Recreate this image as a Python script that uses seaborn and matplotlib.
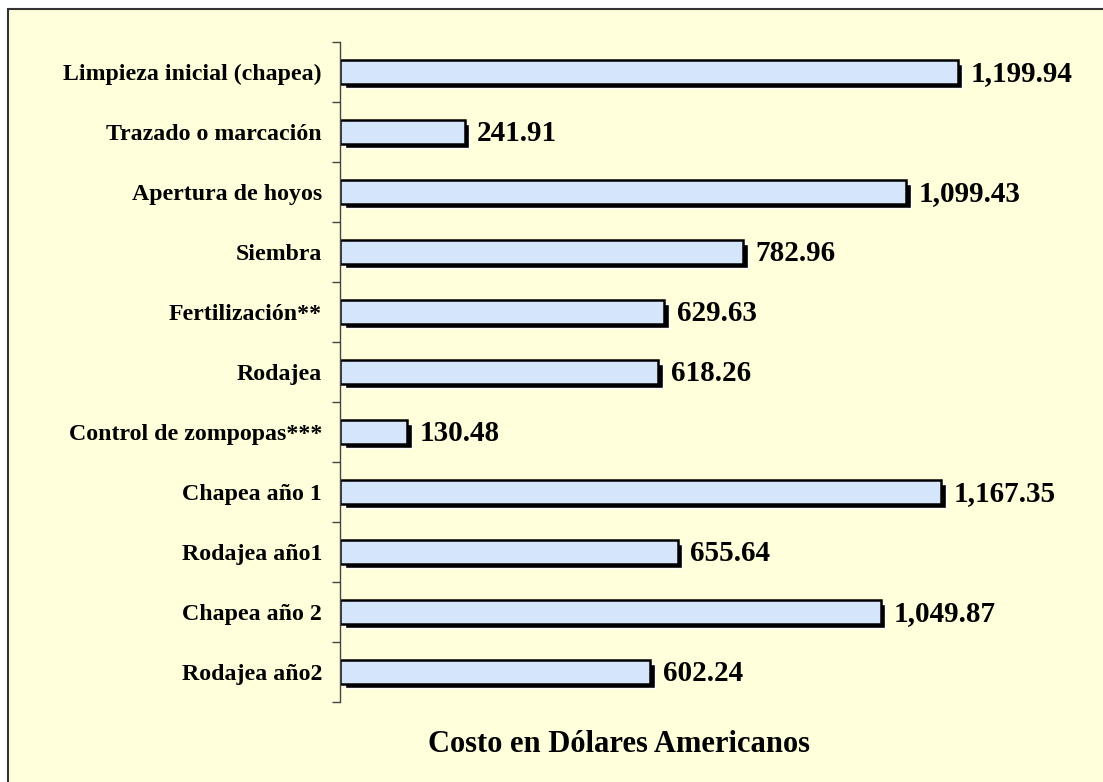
import matplotlib
matplotlib.use("Agg")
import matplotlib.pyplot as plt
import matplotlib.transforms as mtransforms
from matplotlib.patches import Rectangle
import pandas as pd
import seaborn as sns

# Data
actividades = [
    "Limpieza inicial (chapea)", "Trazado o marcación", "Apertura de hoyos",
    "Siembra", "Fertilización**", "Rodajea", "Control de zompopas***",
    "Chapea año 1", "Rodajea año1", "Chapea año 2", "Rodajea año2",
]
costos = [1199.94, 241.91, 1099.43, 782.96, 629.63, 618.26, 130.48,
          1167.35, 655.64, 1049.87, 602.24]

df = pd.DataFrame({"actividad": actividades, "costo": costos})

sns.set_theme(style="white")
plt.rcParams["font.family"] = ["Liberation Serif", "DejaVu Serif"]
plt.rcParams["font.weight"] = "bold"
plt.rcParams["text.color"] = "black"
plt.rcParams["ytick.color"] = "black"
plt.rcParams["ytick.labelcolor"] = "black"

fondo = "#FFFFDC"
fig = plt.figure(figsize=(11.03, 7.82), dpi=100)
fig.patch.set_facecolor("white")
# yellow panel with dark border (right/bottom run off the image)
fig.patches.append(Rectangle((8 / 1103, -0.05), 1.1, 1 - 9 / 782 + 0.05,
                             transform=fig.transFigure, facecolor=fondo,
                             edgecolor="#333333", linewidth=1.5, zorder=-5))

ax = fig.add_axes([340 / 1103, 1 - 702 / 782, 721 / 1103, 660 / 782])
ax.set_facecolor("none")

# shadow bars, then the bars themselves
sns.barplot(data=df, x="costo", y="actividad", color="black", width=0.4,
            saturation=1, ax=ax, zorder=1)
sombra = mtransforms.ScaledTranslation(0.045, -0.042, fig.dpi_scale_trans)
for p in ax.patches:
    p.set_transform(ax.transData + sombra)
    p.set_clip_on(False)

sns.barplot(data=df, x="costo", y="actividad", color="#D6E6FA", width=0.4,
            saturation=1, edgecolor="black", linewidth=1.8, ax=ax, zorder=2)

for i, v in enumerate(costos):
    ax.annotate(f"{v:,.2f}", xy=(v, i), xytext=(9, -1), textcoords="offset points",
                ha="left", va="center", fontsize=21, fontweight="bold", color="black")

ax.set_xlim(0, 1400)
ax.set_ylim(len(costos) - 0.5, -0.5)
ax.set_xlabel("")
ax.set_ylabel("")
ax.set_xticks([])
for s in ["top", "right", "bottom"]:
    ax.spines[s].set_visible(False)
ax.spines["left"].set_color("#444444")
ax.spines["left"].set_linewidth(1)

ax.tick_params(axis="y", which="major", length=0, pad=13, labelsize=17.2)
ax.set_yticks([k - 0.5 for k in range(len(costos) + 1)], minor=True)
ax.tick_params(axis="y", which="minor", left=True, length=6, width=1, color="#444444")
for t in ax.get_yticklabels():
    t.set_fontweight("bold")

fig.text(619 / 1103, 1 - 745 / 782, "Costo en Dólares Americanos", ha="center",
         va="center", fontsize=22, fontweight="bold", color="black")

fig.savefig("out.png", dpi=100, facecolor=fig.get_facecolor())
